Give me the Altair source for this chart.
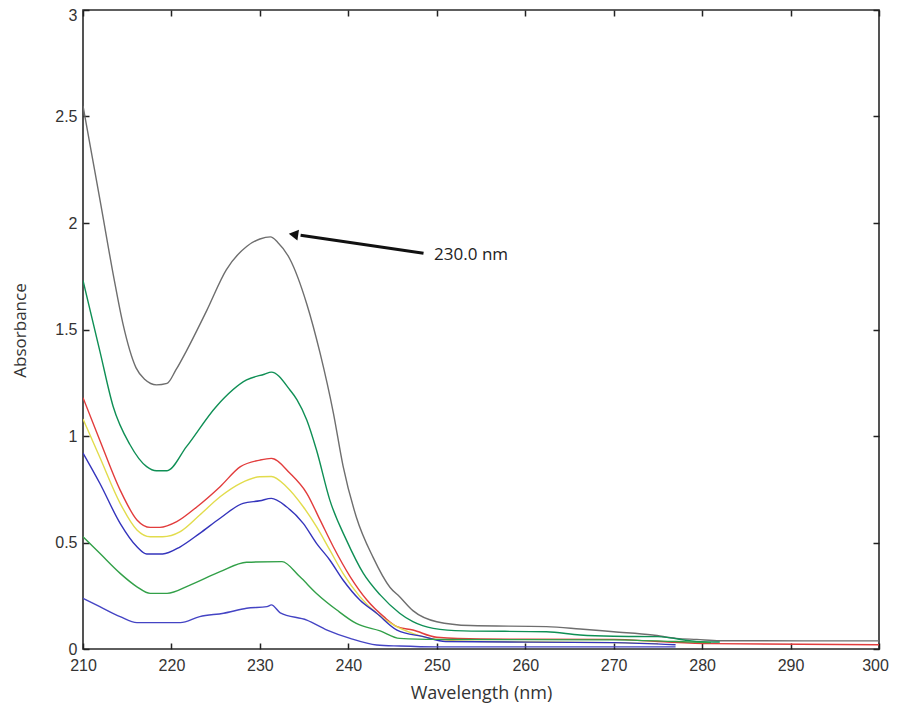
import altair as alt
import pandas as pd

# ---- data ----
gray_wl = [210, 211, 212, 213.5, 214.5, 216, 217, 218.3, 219.5, 220.5, 221.7, 224, 226.2, 228.5, 230, 231.2, 232, 233.4, 235.3, 236.8, 238.3, 239.4, 240.9, 242.8, 244.7, 245.8, 247.3, 250, 253.8, 262.4, 266.2, 270, 274.4, 277.1, 279.4, 282, 300]
gray_abs = [2.55, 2.32, 2.09, 1.74, 1.53, 1.32, 1.265, 1.24, 1.247, 1.31, 1.40, 1.59, 1.78, 1.89, 1.925, 1.935, 1.91, 1.83, 1.62, 1.39, 1.11, 0.86, 0.62, 0.43, 0.29, 0.245, 0.18, 0.128, 0.11, 0.105, 0.094, 0.081, 0.066, 0.05, 0.045, 0.039, 0.038]

green_wl = [210, 211.9, 213.4, 215.3, 217.2, 218.3, 219.5, 221.7, 225.1, 228.5, 230.5, 231.3, 233.4, 234.2, 235.3, 236.4, 237.9, 239.8, 241.7, 243.6, 245.8, 247.3, 249.6, 253, 262.4, 266.2, 270, 275, 279.8, 282]
green_abs = [1.73, 1.40, 1.14, 0.96, 0.856, 0.837, 0.837, 0.95, 1.14, 1.263, 1.29, 1.30, 1.216, 1.17, 1.075, 0.934, 0.70, 0.51, 0.355, 0.254, 0.168, 0.128, 0.097, 0.085, 0.081, 0.066, 0.06, 0.058, 0.034, 0.033]

red_wl = [210, 211.9, 214.2, 216.1, 217.6, 218.7, 220.6, 222.9, 225.5, 227.8, 230, 231.3, 233.4, 235.3, 236.8, 238.3, 240.2, 242.1, 244, 245.5, 247.3, 250, 255, 270, 275, 281, 300]
red_abs = [1.18, 0.98, 0.746, 0.606, 0.571, 0.571, 0.598, 0.668, 0.762, 0.856, 0.887, 0.895, 0.825, 0.731, 0.606, 0.48, 0.34, 0.23, 0.152, 0.105, 0.089, 0.055, 0.047, 0.045, 0.035, 0.025, 0.02]

yellow_wl = [210, 211.9, 214.2, 216.1, 217.6, 219, 221, 223.2, 225.5, 227.8, 230, 231.3, 233, 234.9, 236.4, 237.9, 239.4, 241.3, 243.2, 245.1, 247.5, 250, 255, 270, 275]
yellow_abs = [1.08, 0.90, 0.684, 0.559, 0.527, 0.527, 0.551, 0.629, 0.715, 0.778, 0.809, 0.81, 0.762, 0.668, 0.574, 0.465, 0.355, 0.246, 0.168, 0.113, 0.07, 0.045, 0.035, 0.03, 0.025]

blue_wl = [210, 211.9, 214.2, 216.1, 217.2, 219, 221, 223.2, 225.5, 228.1, 230, 231.3, 233, 234.9, 236.4, 237.9, 239.4, 241.3, 243.2, 245.5, 248.5, 251, 270, 277]
blue_abs = [0.92, 0.778, 0.59, 0.48, 0.446, 0.446, 0.48, 0.543, 0.614, 0.684, 0.696, 0.707, 0.668, 0.59, 0.496, 0.418, 0.324, 0.23, 0.168, 0.089, 0.058, 0.035, 0.03, 0.02]

green2_wl = [210, 211.9, 214.2, 216.1, 217.6, 219.5, 222.1, 225.5, 228.5, 232.5, 234.5, 236.4, 238.7, 240.9, 243.6, 245.8, 250, 270, 277, 281]
green2_abs = [0.527, 0.449, 0.355, 0.292, 0.261, 0.261, 0.30, 0.363, 0.407, 0.41, 0.34, 0.261, 0.183, 0.12, 0.085, 0.05, 0.045, 0.043, 0.035, 0.03]

blue2_wl = [210, 211.9, 214.2, 216.1, 218.5, 221, 223.2, 225.9, 228.5, 230.8, 231.3, 232.3, 235.3, 237.6, 240.2, 243.2, 245.8, 250, 277]
blue2_abs = [0.238, 0.199, 0.152, 0.124, 0.124, 0.124, 0.152, 0.168, 0.191, 0.199, 0.207, 0.17, 0.136, 0.089, 0.05, 0.019, 0.014, 0.01, 0.01]

series_names = ["S1", "S2", "S3", "S4", "S5", "S6", "S7"]
series_colors = ["#6e6e6e", "#0f8f55", "#e23c3c", "#e2dc4c", "#3434bc", "#32a048", "#4444c4"]
series_data = [(gray_wl, gray_abs), (green_wl, green_abs), (red_wl, red_abs),
               (yellow_wl, yellow_abs), (blue_wl, blue_abs), (green2_wl, green2_abs),
               (blue2_wl, blue2_abs)]

x_ticks = [210, 220, 230, 240, 250, 260, 270, 280, 290, 300]
y_ticks = [0, 0.5, 1, 1.5, 2, 2.5, 3]

annot_text = ["230.0 nm"]
annot_x = [249.7]
annot_y = [1.85]
arrow_tail = [248.5, 1.858]
arrow_head = [233.8, 1.946]
arrow_shaft_end = [234.6, 1.942]

rows = []
for name, (w, a) in zip(series_names, series_data):
    for xv, yv in zip(w, a):
        rows.append({"series": name, "wl": xv, "abs": yv})
df = pd.DataFrame(rows)

xscale = alt.Scale(domain=[210, 300], nice=False, zero=False)
yscale = alt.Scale(domain=[0, 3], nice=False, zero=False)

lines = alt.Chart(df).mark_line(strokeWidth=1.4, clip=True, interpolate="monotone").encode(
    x=alt.X("wl:Q", scale=xscale, axis=alt.Axis(
        values=x_ticks, ticks=False, domain=False, grid=False, labelPadding=8, labelFlush=False,
        labelOffset=alt.expr("datum.value == 300 ? -4 : 0"),
        labelFont="Liberation Sans", labelFontSize=16, labelColor="#333",
        title="Wavelength (nm)", titleFont="Open Sans", titleFontSize=18,
        titleFontWeight="normal", titleColor="#333", titleX=398, titleY=44,
        titleBaseline="middle", titleAlign="center")),
    y=alt.Y("abs:Q", scale=yscale, axis=alt.Axis(
        values=y_ticks, format="~g", ticks=False, domain=False, grid=False, labelPadding=6,
        labelFlush=False, labelOffset=alt.expr("datum.value == 3 ? 5 : 0"),
        labelFont="Liberation Sans", labelFontSize=16, labelColor="#333",
        title="Absorbance", titleFont="Open Sans", titleFontSize=17,
        titleFontWeight="normal", titleColor="#333", titleX=-63, titleY=320,
        titleAngle=270, titleBaseline="middle", titleAlign="center")),
    color=alt.Color("series:N", scale=alt.Scale(domain=series_names, range=series_colors), legend=None),
)

def tick_axis(orient, values):
    return alt.Axis(orient=orient, values=values, offset=-6, tickSize=6, tickWidth=1.5,
                    tickColor="#222", labels=False, domain=False, grid=False, title=None)

ticks_bl = alt.Chart(df).mark_point(opacity=0).encode(
    x=alt.X("wl:Q", scale=xscale, axis=tick_axis("bottom", x_ticks)),
    y=alt.Y("abs:Q", scale=yscale, axis=tick_axis("left", y_ticks)),
)
ticks_tr = alt.Chart(df).mark_point(opacity=0).encode(
    x=alt.X("wl:Q", scale=xscale, axis=tick_axis("top", x_ticks)),
    y=alt.Y("abs:Q", scale=yscale, axis=tick_axis("right", y_ticks)),
)

arrow_df = pd.DataFrame({"x": [arrow_tail[0]], "y": [arrow_tail[1]],
                         "x2": [arrow_shaft_end[0]], "y2": [arrow_shaft_end[1]]})
shaft = alt.Chart(arrow_df).mark_rule(strokeWidth=3, color="#111").encode(
    x=alt.X("x:Q", scale=xscale, axis=None),
    y=alt.Y("y:Q", scale=yscale, axis=None),
    x2="x2:Q", y2="y2:Q",
)
head_df = pd.DataFrame({"x": [arrow_head[0]], "y": [arrow_head[1]]})
head = alt.Chart(head_df).mark_point(shape="triangle-left", filled=True, size=120,
                                     angle=8.5, color="#111", opacity=1).encode(
    x=alt.X("x:Q", scale=xscale, axis=None),
    y=alt.Y("y:Q", scale=yscale, axis=None),
)
text_df = pd.DataFrame({"x": annot_x, "y": annot_y, "t": annot_text})
label = alt.Chart(text_df).mark_text(align="left", baseline="middle", font="Open Sans",
                                     fontSize=17, color="#222").encode(
    x=alt.X("x:Q", scale=xscale, axis=None),
    y=alt.Y("y:Q", scale=yscale, axis=None),
    text="t:N",
)

chart = alt.layer(lines, ticks_bl, ticks_tr, shaft, head, label).resolve_axis(
    x="independent", y="independent"
).properties(
    width=796, height=639,
    background="white",
    autosize=alt.AutoSizeParams(type="none"),
    padding={"left": 75, "top": 2, "right": 10, "bottom": 58},
).configure_view(
    stroke="#2a2a2a", strokeWidth=1.6
)

chart.save("out.html", embed_options={"renderer": "svg", "actions": False})
